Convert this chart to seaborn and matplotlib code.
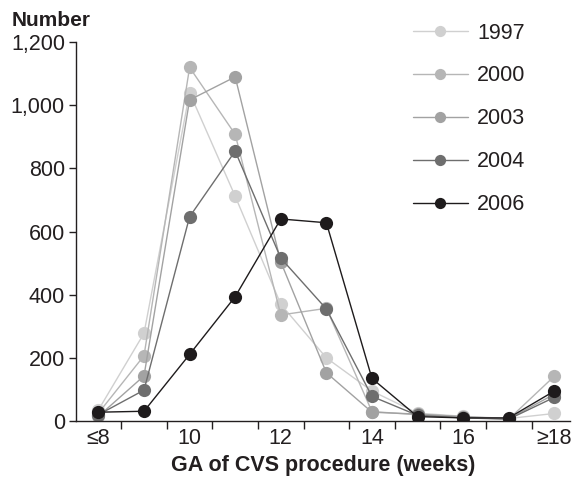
import matplotlib
matplotlib.use("Agg")
import matplotlib.pyplot as plt
import seaborn as sns
import pandas as pd
import numpy as np
from matplotlib.ticker import FixedLocator, FuncFormatter

categories = ["≤8", "9", "10", "11", "12", "13", "14", "15", "16", "17", "≥18"]
tick_labels = ["≤8", "", "10", "", "12", "", "14", "", "16", "", "≥18"]
years = ["1997", "2000", "2003", "2004", "2006"]
v1997 = [35, 278, 1040, 712, 370, 200, 95, 25, 15, 8, 24]
v2000 = [25, 207, 1120, 908, 336, 357, 30, 20, 12, 6, 142]
v2003 = [15, 143, 1017, 1090, 504, 153, 28, 22, 14, 7, 85]
v2004 = [20, 98, 647, 855, 516, 355, 78, 18, 10, 6, 75]
v2006 = [28, 31, 211, 394, 640, 628, 135, 14, 10, 10, 95]
colors = ["#d0d0d0", "#b6b6b6", "#a2a2a2", "#6e6e6e", "#1e1b1c"]

series = [v1997, v2000, v2003, v2004, v2006]
rows = []
for y, vals in zip(years, series):
    for i, (c, v) in enumerate(zip(categories, vals)):
        rows.append({"pos": i, "week": c, "year": y, "count": v})
df = pd.DataFrame(rows)

sns.set_theme(style="white")
plt.rcParams["font.family"] = ["Liberation Sans", "DejaVu Sans"]

fig = plt.figure(figsize=(5.72, 4.79), dpi=100)
ax = fig.add_axes([0.133, 0.121, 0.864, 0.791])

palette = dict(zip(years, colors))
sns.lineplot(data=df, x="pos", y="count", hue="year", hue_order=years,
             palette=palette, marker="o", markersize=9.5, markeredgewidth=0,
             linewidth=1.0, ax=ax, legend=True)

ax.set_xlim(-0.49, 10.35)
ax.set_ylim(0, 1200)
ax.set_yticks([0, 200, 400, 600, 800, 1000, 1200])
ax.yaxis.set_major_formatter(FuncFormatter(lambda v, p: f"{int(v):,}"))
ax.set_xticks(range(len(categories)))
ax.set_xticklabels(tick_labels)
ax.xaxis.set_minor_locator(FixedLocator(np.arange(0.5, 10, 1.0)))
ax.tick_params(axis="x", which="major", length=0, labelsize=15.5, pad=5, colors="#231f20")
ax.tick_params(axis="x", which="minor", length=6, width=1.0, direction="out",
               bottom=True, color="#231f20")
ax.tick_params(axis="y", which="major", length=5, width=1.0, direction="out",
               left=True, labelsize=15.5, pad=3, colors="#231f20")

for s in ["top", "right"]:
    ax.spines[s].set_visible(False)
for s in ["left", "bottom"]:
    ax.spines[s].set_color("#231f20")
    ax.spines[s].set_linewidth(1.0)

ax.set_xlabel("GA of CVS procedure (weeks)", fontsize=15.5, fontweight="bold",
              color="#231f20", labelpad=4)
ax.set_ylabel("")
fig.text(0.020, 0.958, "Number", fontsize=15, fontweight="bold",
         color="#231f20", ha="left", va="center")

handles, labels = ax.get_legend_handles_labels()
leg = ax.legend(handles, labels, loc="upper left", bbox_to_anchor=(0.722, 0.953),
                bbox_transform=fig.transFigure, frameon=False, fontsize=15.5,
                handlelength=2.55, handletextpad=0.42, labelspacing=1.02,
                borderpad=0, borderaxespad=0, markerscale=0.85)
for t in leg.get_texts():
    t.set_color("#231f20")

fig.savefig("out.png", dpi=100)
